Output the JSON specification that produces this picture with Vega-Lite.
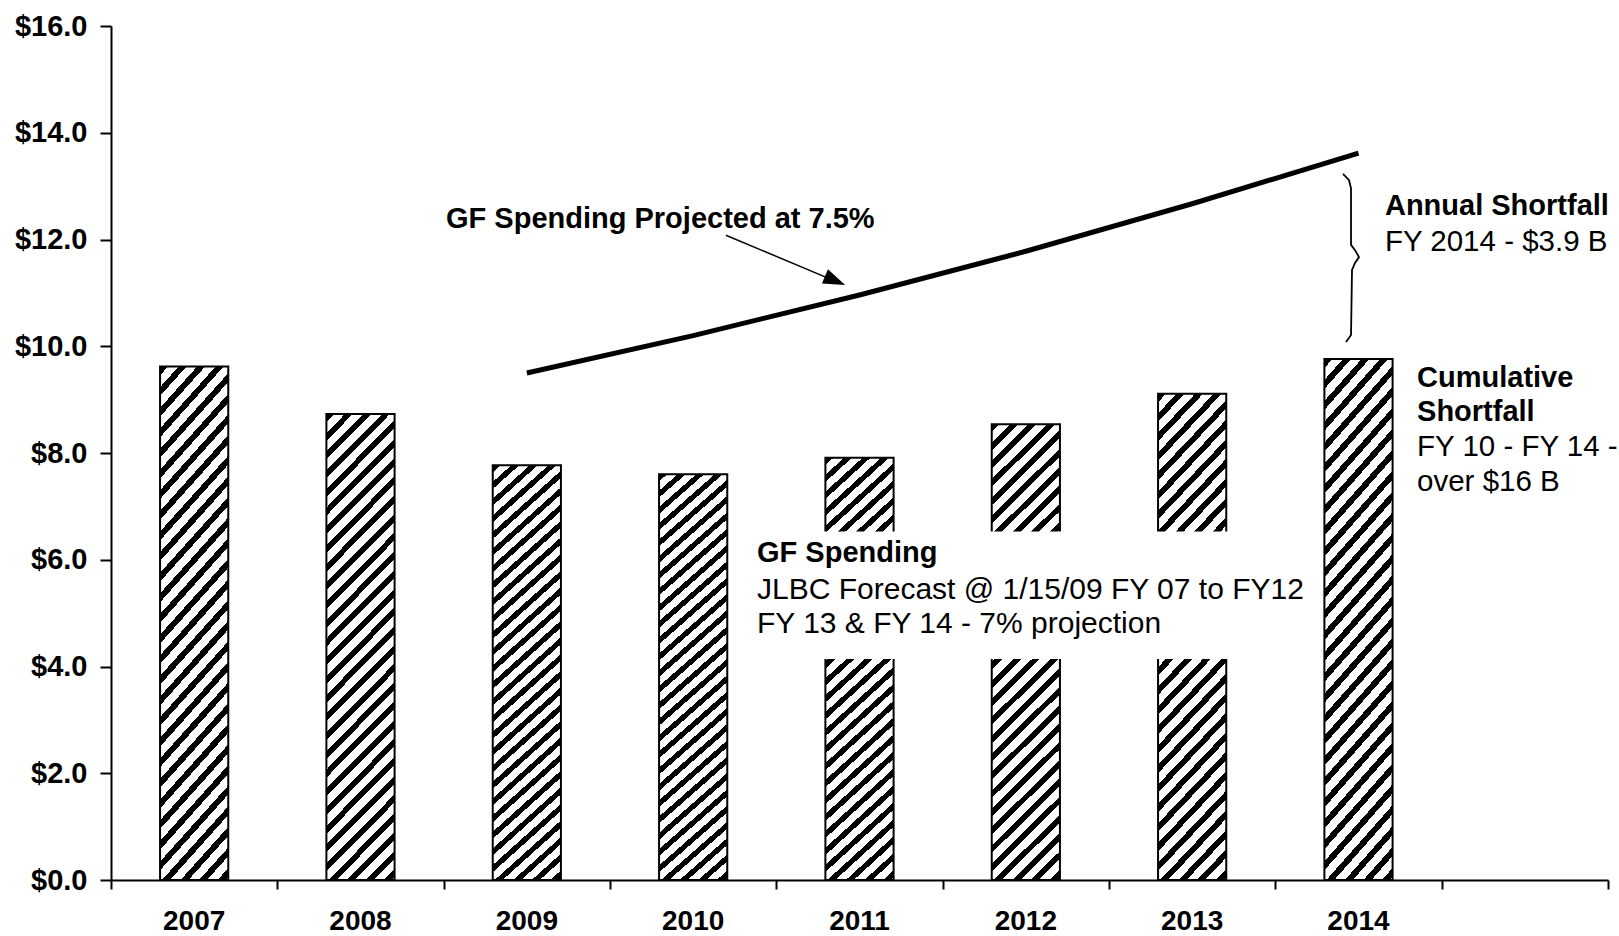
{
  "$schema": "https://vega.github.io/schema/vega-lite/v6.json",
  "width": 1497,
  "height": 854,
  "autosize": "none",
  "padding": {"left": 111, "top": 26, "right": 11, "bottom": 56},
  "background": "white",
  "config": {"view": {"stroke": null}, "axis": {"grid": false}, "font": "Liberation Sans"},
  "resolve": {"scale": {"x": "independent"}, "axis": {"x": "independent"}},
  "layer": [
    {
      "encoding": {
        "x": {
          "field": "year", "type": "ordinal",
          "scale": {"domain": ["2007", "2008", "2009", "2010", "2011", "2012", "2013", "2014", "2015"], "paddingInner": 0.59, "paddingOuter": 0.295},
          "axis": {
            "orient": "bottom", "title": null, "labelAngle": 0,
            "labelFont": "Liberation Sans", "labelFontWeight": "bold", "labelFontSize": 28, "labelColor": "black",
            "labelBaseline": "alphabetic", "labelPadding": 40, "tickSize": 9, "tickOpacity": 0,
            "domainColor": "black", "domainWidth": 2,
            "labelExpr": "datum.value == '2015' ? '' : datum.label"
          }
        },
        "y": {
          "field": "value", "type": "quantitative",
          "scale": {"domain": [0, 16], "nice": false},
          "axis": {
            "title": null, "values": [0, 2, 4, 6, 8, 10, 12, 14, 16], "format": "$.1f",
            "labelFont": "Liberation Sans", "labelFontWeight": "bold", "labelFontSize": 29, "labelColor": "black",
            "labelPadding": 13, "tickSize": 11, "tickWidth": 2, "tickColor": "black",
            "domainColor": "black", "domainWidth": 2,
            "encode": {"ticks": {"update": {"x": {"value": 11}}}}
          }
        }
      },
      "layer": [
        {
          "data": {"values": [
            {"year": "2007", "value": 9.62},
            {"year": "2008", "value": 8.73},
            {"year": "2009", "value": 7.77},
            {"year": "2010", "value": 7.6},
            {"year": "2011", "value": 7.91},
            {"year": "2012", "value": 8.54},
            {"year": "2013", "value": 9.11},
            {"year": "2014", "value": 9.76}
          ]},
          "mark": {
            "type": "bar",
            "stroke": "black",
            "strokeWidth": 2,
            "fill": {
              "gradient": "linear", "x1": 0, "y1": 0, "x2": 0.166, "y2": 1.123,
              "stops": [
                {"offset": 0, "color": "#000"}, {"offset": 0.015, "color": "#000"}, {"offset": 0.015, "color": "#fff"}, {"offset": 0.035, "color": "#fff"},
                {"offset": 0.035, "color": "#000"}, {"offset": 0.05, "color": "#000"}, {"offset": 0.05, "color": "#fff"}, {"offset": 0.07, "color": "#fff"},
                {"offset": 0.07, "color": "#000"}, {"offset": 0.085, "color": "#000"}, {"offset": 0.085, "color": "#fff"}, {"offset": 0.105, "color": "#fff"},
                {"offset": 0.105, "color": "#000"}, {"offset": 0.12, "color": "#000"}, {"offset": 0.12, "color": "#fff"}, {"offset": 0.14, "color": "#fff"},
                {"offset": 0.14, "color": "#000"}, {"offset": 0.155, "color": "#000"}, {"offset": 0.155, "color": "#fff"}, {"offset": 0.175, "color": "#fff"},
                {"offset": 0.175, "color": "#000"}, {"offset": 0.19, "color": "#000"}, {"offset": 0.19, "color": "#fff"}, {"offset": 0.21, "color": "#fff"},
                {"offset": 0.21, "color": "#000"}, {"offset": 0.225, "color": "#000"}, {"offset": 0.225, "color": "#fff"}, {"offset": 0.245, "color": "#fff"},
                {"offset": 0.245, "color": "#000"}, {"offset": 0.26, "color": "#000"}, {"offset": 0.26, "color": "#fff"}, {"offset": 0.28, "color": "#fff"},
                {"offset": 0.28, "color": "#000"}, {"offset": 0.295, "color": "#000"}, {"offset": 0.295, "color": "#fff"}, {"offset": 0.315, "color": "#fff"},
                {"offset": 0.315, "color": "#000"}, {"offset": 0.33, "color": "#000"}, {"offset": 0.33, "color": "#fff"}, {"offset": 0.35, "color": "#fff"},
                {"offset": 0.35, "color": "#000"}, {"offset": 0.365, "color": "#000"}, {"offset": 0.365, "color": "#fff"}, {"offset": 0.385, "color": "#fff"},
                {"offset": 0.385, "color": "#000"}, {"offset": 0.4, "color": "#000"}, {"offset": 0.4, "color": "#fff"}, {"offset": 0.42, "color": "#fff"},
                {"offset": 0.42, "color": "#000"}, {"offset": 0.435, "color": "#000"}, {"offset": 0.435, "color": "#fff"}, {"offset": 0.455, "color": "#fff"},
                {"offset": 0.455, "color": "#000"}, {"offset": 0.47, "color": "#000"}, {"offset": 0.47, "color": "#fff"}, {"offset": 0.49, "color": "#fff"},
                {"offset": 0.49, "color": "#000"}, {"offset": 0.505, "color": "#000"}, {"offset": 0.505, "color": "#fff"}, {"offset": 0.525, "color": "#fff"},
                {"offset": 0.525, "color": "#000"}, {"offset": 0.54, "color": "#000"}, {"offset": 0.54, "color": "#fff"}, {"offset": 0.56, "color": "#fff"},
                {"offset": 0.56, "color": "#000"}, {"offset": 0.575, "color": "#000"}, {"offset": 0.575, "color": "#fff"}, {"offset": 0.595, "color": "#fff"},
                {"offset": 0.595, "color": "#000"}, {"offset": 0.61, "color": "#000"}, {"offset": 0.61, "color": "#fff"}, {"offset": 0.63, "color": "#fff"},
                {"offset": 0.63, "color": "#000"}, {"offset": 0.645, "color": "#000"}, {"offset": 0.645, "color": "#fff"}, {"offset": 0.665, "color": "#fff"},
                {"offset": 0.665, "color": "#000"}, {"offset": 0.68, "color": "#000"}, {"offset": 0.68, "color": "#fff"}, {"offset": 0.7, "color": "#fff"},
                {"offset": 0.7, "color": "#000"}, {"offset": 0.715, "color": "#000"}, {"offset": 0.715, "color": "#fff"}, {"offset": 0.735, "color": "#fff"},
                {"offset": 0.735, "color": "#000"}, {"offset": 0.75, "color": "#000"}, {"offset": 0.75, "color": "#fff"}, {"offset": 0.77, "color": "#fff"},
                {"offset": 0.77, "color": "#000"}, {"offset": 0.785, "color": "#000"}, {"offset": 0.785, "color": "#fff"}, {"offset": 0.805, "color": "#fff"},
                {"offset": 0.805, "color": "#000"}, {"offset": 0.82, "color": "#000"}, {"offset": 0.82, "color": "#fff"}, {"offset": 0.84, "color": "#fff"},
                {"offset": 0.84, "color": "#000"}, {"offset": 0.855, "color": "#000"}, {"offset": 0.855, "color": "#fff"}, {"offset": 0.875, "color": "#fff"},
                {"offset": 0.875, "color": "#000"}, {"offset": 0.89, "color": "#000"}, {"offset": 0.89, "color": "#fff"}, {"offset": 0.91, "color": "#fff"},
                {"offset": 0.91, "color": "#000"}, {"offset": 0.925, "color": "#000"}, {"offset": 0.925, "color": "#fff"}, {"offset": 0.945, "color": "#fff"},
                {"offset": 0.945, "color": "#000"}, {"offset": 0.96, "color": "#000"}, {"offset": 0.96, "color": "#fff"}, {"offset": 0.98, "color": "#fff"},
                {"offset": 0.98, "color": "#000"}, {"offset": 0.995, "color": "#000"}, {"offset": 0.995, "color": "#fff"}, {"offset": 1, "color": "#fff"}
              ]
            }
          }
        },
        {
          "data": {"values": [
            {"year": "2009", "value": 9.5},
            {"year": "2010", "value": 10.2},
            {"year": "2011", "value": 10.96},
            {"year": "2012", "value": 11.78},
            {"year": "2013", "value": 12.67},
            {"year": "2014", "value": 13.62}
          ]},
          "mark": {"type": "line", "color": "black", "strokeWidth": 5}
        }
      ]
    },
    {
      "encoding": {
        "x": {
          "field": "x", "type": "quantitative",
          "scale": {"domain": [2006.5, 2015.5], "nice": false, "zero": false},
          "axis": {
            "orient": "bottom", "title": null, "labels": false, "domain": false, "grid": false,
            "values": [2006.5, 2007.5, 2008.5, 2009.5, 2010.5, 2011.5, 2012.5, 2013.5, 2014.5, 2015.5],
            "tickSize": 9, "tickWidth": 2, "tickColor": "black",
            "encode": {"ticks": {"update": {"y": {"value": -9}}}}
          }
        },
        "y": {"field": "y", "type": "quantitative", "scale": {"domain": [0, 16], "nice": false}}
      },
      "layer": [
        {
          "data": {"values": [{"x": 2010.3, "x2": 2013.5, "y": 4.14, "y2": 6.53}]},
          "mark": {"type": "rect", "fill": "white", "stroke": null},
          "encoding": {"x2": {"field": "x2"}, "y2": {"field": "y2"}}
        },
        {
          "data": {"values": [
            {"x": 2008.514, "y": 12.38, "text": "GF Spending Projected at 7.5%"},
            {"x": 2014.159, "y": 12.63, "text": "Annual Shortfall"},
            {"x": 2014.352, "y": 9.41, "text": "Cumulative"},
            {"x": 2014.352, "y": 8.77, "text": "Shortfall"},
            {"x": 2010.384, "y": 6.13, "text": "GF Spending"}
          ]},
          "mark": {"type": "text", "align": "left", "baseline": "middle", "font": "Liberation Sans", "fontWeight": "bold", "fontSize": 29, "color": "black"},
          "encoding": {"text": {"field": "text"}}
        },
        {
          "data": {"values": [
            {"x": 2014.159, "y": 11.95, "text": "FY 2014 - $3.9 B"},
            {"x": 2014.352, "y": 8.11, "text": "FY 10 - FY 14 -"},
            {"x": 2014.352, "y": 7.46, "text": "over $16 B"}
          ]},
          "mark": {"type": "text", "align": "left", "baseline": "middle", "font": "Liberation Sans", "fontSize": 29.5, "color": "black"},
          "encoding": {"text": {"field": "text"}}
        },
        {
          "data": {"values": [
            {"x": 2010.384, "y": 5.43, "text": "JLBC Forecast @ 1/15/09 FY 07 to FY12"},
            {"x": 2010.384, "y": 4.79, "text": "FY 13 & FY 14 - 7% projection"}
          ]},
          "mark": {"type": "text", "align": "left", "baseline": "middle", "font": "Liberation Sans", "fontSize": 30, "color": "black"},
          "encoding": {"text": {"field": "text"}}
        },
        {
          "data": {"values": [
            {"x": 2010.197, "y": 12.08, "order": 1},
            {"x": 2010.793, "y": 11.3, "order": 2}
          ]},
          "mark": {"type": "line", "color": "black", "strokeWidth": 1.5},
          "encoding": {"order": {"field": "order"}}
        },
        {
          "data": {"values": [{"x": 2010.853, "y": 11.23}]},
          "mark": {"type": "point", "shape": "M1,0L-1,-0.7L-1,0.7Z", "size": 484, "angle": 23, "filled": true, "color": "black", "opacity": 1}
        },
        {
          "data": {"values": [
            {"x": 2013.907, "y": 13.23, "order": 1},
            {"x": 2013.943, "y": 13.11, "order": 2},
            {"x": 2013.955, "y": 12.96, "order": 3},
            {"x": 2013.955, "y": 11.9, "order": 4},
            {"x": 2013.979, "y": 11.8, "order": 5},
            {"x": 2014.003, "y": 11.67, "order": 6},
            {"x": 2013.979, "y": 11.56, "order": 7},
            {"x": 2013.961, "y": 11.43, "order": 8},
            {"x": 2013.955, "y": 10.21, "order": 9},
            {"x": 2013.925, "y": 10.08, "order": 10}
          ]},
          "mark": {"type": "line", "color": "black", "strokeWidth": 1.8},
          "encoding": {"order": {"field": "order"}}
        }
      ]
    }
  ]
}
